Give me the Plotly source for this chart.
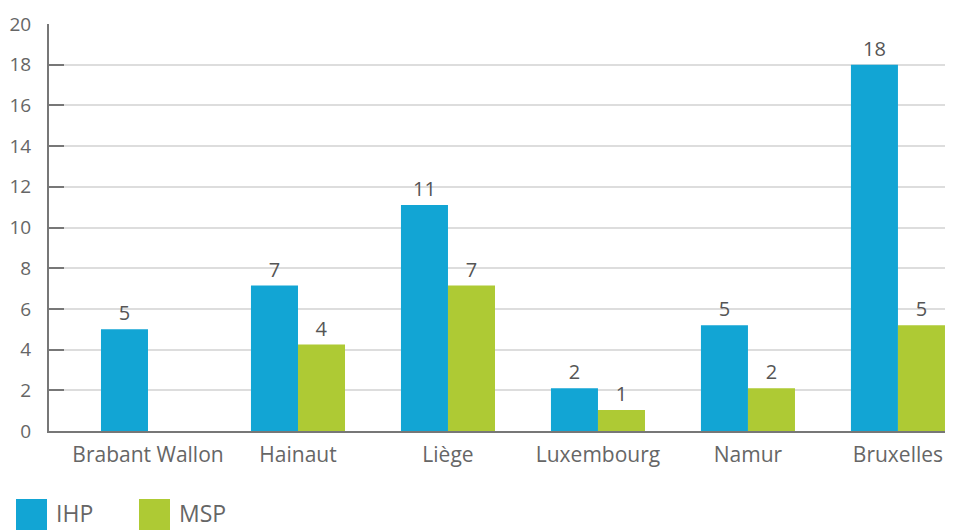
import plotly.graph_objects as go

categories = ["Brabant Wallon", "Hainaut", "Liège", "Luxembourg", "Namur", "Bruxelles"]
series_names = ["IHP", "MSP"]
ihp_values = [5.0, 7.15, 11.1, 2.1, 5.2, 18.0]
msp_values = [None, 4.25, 7.15, 1.03, 2.1, 5.2]
y_ticks = [0, 2, 4, 6, 8, 10, 12, 14, 16, 18, 20]

colors = ["#12A5D4", "#AECA34"]
FONT = "Open Sans"
GREY = "#666666"

# page body has an 8px margin: figure is sized/offset so the plot lands where the reference shows it
W, H = 945, 522
L, T, B = 41, 16, 99
PW, PH = W - L, H - T - B

fig = go.Figure()
for name, vals, col in zip(series_names, [ihp_values, msp_values], colors):
    fig.add_trace(go.Bar(
        x=categories, y=vals, name=name, marker=dict(color=col, line=dict(width=0)),
        texttemplate="%{y:.0f}", textposition="outside", cliponaxis=False,
        constraintext="none",
        textfont=dict(family=FONT, size=20, color="#555555"),
        showlegend=False,
    ))

fig.update_layout(
    width=W, height=H,
    margin=dict(l=L, r=0, t=T, b=B),
    paper_bgcolor="white", plot_bgcolor="white",
    barmode="group", bargap=0.373, bargroupgap=0,
    font=dict(family=FONT, color=GREY),
    xaxis=dict(
        type="category", range=[-0.66, 5.367],
        showline=True, linecolor="#777777", linewidth=2,
        showgrid=False, ticks="",
        ticklabelstandoff=4,
        tickfont=dict(family=FONT, size=21, color=GREY),
    ),
    yaxis=dict(
        range=[0, 20], tickvals=y_ticks,
        showline=True, linecolor="#777777", linewidth=2,
        showgrid=True, gridcolor="#DDDDDD", gridwidth=1.5,
        ticks="inside", ticklen=15, tickwidth=2, tickcolor="#777777",
        ticklabelstandoff=12,
        tickfont=dict(family=FONT, size=19, color=GREY),
        zeroline=False,
    ),
)

# custom legend (large square swatches), positions in screen px
legend_x = [16, 139]
for name, col, lx in zip(series_names, colors, legend_x):
    fx = lx - 8
    fig.add_shape(type="rect", xref="paper", yref="paper",
                  x0=(fx - L) / PW, x1=(fx + 31 - L) / PW,
                  y0=(T + PH - (530 - 8)) / PH, y1=(T + PH - (499 - 8)) / PH,
                  fillcolor=col, line=dict(width=0))
    fig.add_annotation(xref="paper", yref="paper",
                       x=(fx + 38 - L) / PW, y=(T + PH - (513 - 8)) / PH,
                       xanchor="left", yanchor="middle", showarrow=False,
                       text=name, font=dict(family=FONT, size=23, color=GREY))

fig.write_html("out.html")
